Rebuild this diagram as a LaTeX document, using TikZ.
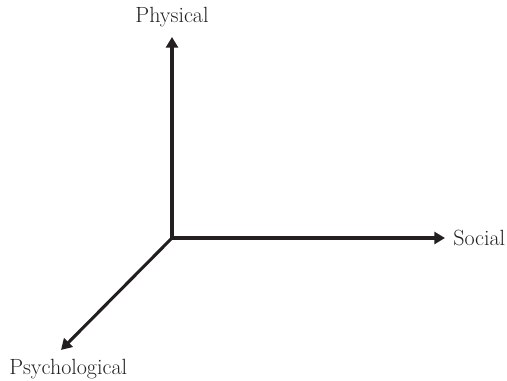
\documentclass[tikz,border=0pt]{standalone}
\usetikzlibrary{arrows.meta}
\begin{document}
\begin{tikzpicture}[x=0.75pt,y=-0.75pt]
    \definecolor{axisColour}{HTML}{231F20}

    \tikzset{
        axisLine/.style={draw=axisColour, line width=2.3pt, -{Triangle[length=8pt,width=9pt]}},
        axisLabel/.style={text=axisColour, font=\fontsize{16.5}{19}\selectfont, inner sep=0pt}
    }

    \useasboundingbox (0,0) rectangle (507,381);

    % Origin and arrow tips
    \coordinate (O) at (172,238);
    \coordinate (physTip) at (172,37);
    \coordinate (socTip) at (445,238);
    \coordinate (psyTip) at (61,350);

    % Labels
    \node[axisLabel, anchor=base] (phys) at (172,23) {Physical};
    \node[axisLabel, anchor=base west] (soc) at (453,246) {Social};
    \node[axisLabel, anchor=base west] (psy) at (9,374) {Psychological};

    % Draw axes
    \draw[axisLine] (O) -- (physTip);
    \draw[axisLine] (O) -- (socTip);
    \draw[axisLine] (O) -- (psyTip);

\end{tikzpicture}
\end{document}
